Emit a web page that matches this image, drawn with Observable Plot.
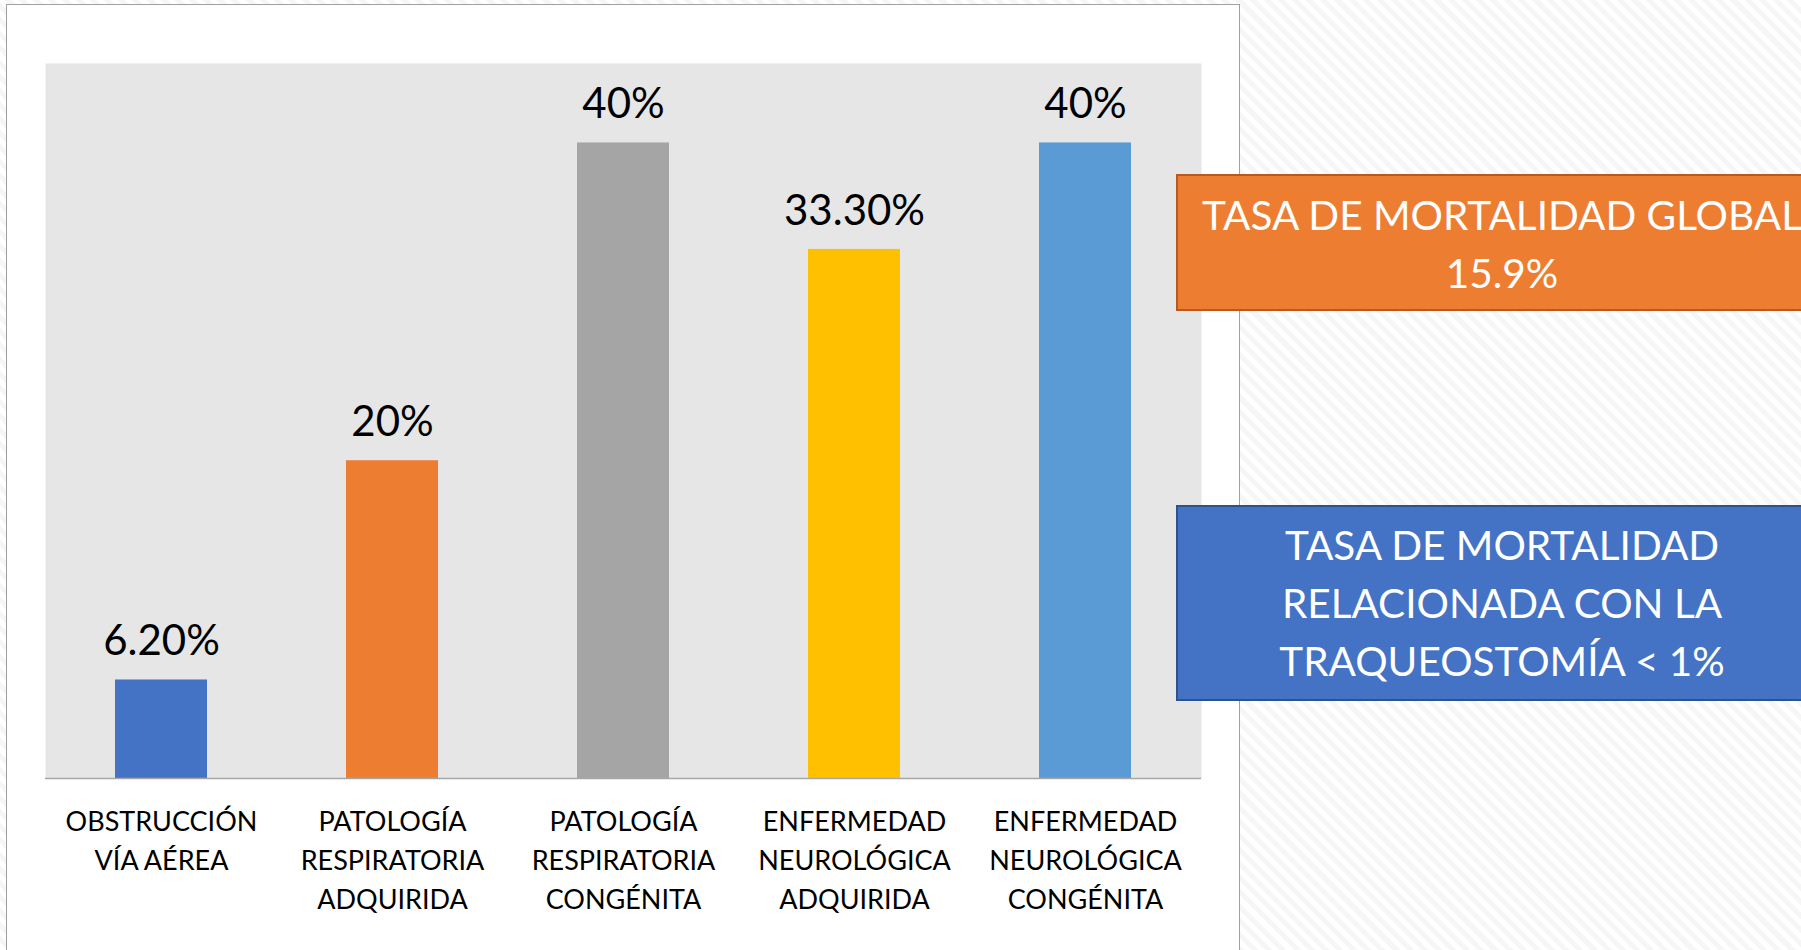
<!DOCTYPE html>
<html>
<head>
<meta charset="utf-8">
<script src="https://cdn.jsdelivr.net/npm/d3@7"></script>
<script src="https://cdn.jsdelivr.net/npm/@observablehq/plot@0.6"></script>
<style>
  html, body { margin: 0; padding: 0; width: 1801px; height: 950px; overflow: hidden; }
  body {
    position: relative;
    font-family: Lato, "Open Sans", sans-serif;
    background: repeating-linear-gradient(45deg, #ffffff 0px, #ffffff 5px, #f6f6f6 5px, #f6f6f6 10px);
  }
  #panel {
    position: absolute; left: 6px; top: 4px; width: 1232px; height: 1000px;
    background: #ffffff; border: 1.5px solid #a0a0a0;
  }
  #chart { position: absolute; left: 0; top: 0; }
  .box {
    position: absolute; box-sizing: border-box; color: #ffffff;
    font-family: Lato, sans-serif; font-size: 40.5px; text-align: center; white-space: nowrap;
  }
  .box div { position: absolute; left: 0; width: 648px; text-align: center; }
  #box1 { left: 1176px; top: 174px; width: 650px; height: 137px; background: #ED7D31; border: 2.5px solid #B85A1F; }
  #box2 { left: 1176px; top: 505px; width: 650px; height: 196px; background: #4472C4; border: 2.5px solid #2F528F; }
</style>
</head>
<body>
<div id="panel"></div>
<div id="chart"></div>
<div class="box" id="box1"></div>
<div class="box" id="box2"></div>
<script>
const categories = [
  "OBSTRUCCIÓN\nVÍA AÉREA",
  "PATOLOGÍA\nRESPIRATORIA\nADQUIRIDA",
  "PATOLOGÍA\nRESPIRATORIA\nCONGÉNITA",
  "ENFERMEDAD\nNEUROLÓGICA\nADQUIRIDA",
  "ENFERMEDAD\nNEUROLÓGICA\nCONGÉNITA"
];
const values = [6.2, 20, 40, 33.3, 40];
const valueLabels = ["6.20%", "20%", "40%", "33.30%", "40%"];
const barColors = ["#4472C4", "#ED7D31", "#A5A5A5", "#FFC000", "#5B9BD5"];
const box1Lines = ["TASA DE MORTALIDAD GLOBAL", "15.9%"];
const box2Lines = ["TASA DE MORTALIDAD", "RELACIONADA CON LA", "TRAQUEOSTOMÍA < 1%"];

const data = categories.map((c, i) => ({cat: c, value: values[i], label: valueLabels[i], color: barColors[i]}));

const chart = Plot.plot({
  width: 1240,
  height: 950,
  marginLeft: 45,
  marginRight: 39,
  marginTop: 63,
  marginBottom: 172,
  style: {background: "transparent", fontFamily: "Lato, sans-serif"},
  x: {domain: categories, paddingInner: 0.6, paddingOuter: 0.3, axis: null},
  y: {domain: [0, 45], axis: null},
  marks: [
    Plot.frame({fill: "#E6E6E6", stroke: null}),
    Plot.barY(data, {x: "cat", y: "value", fill: "color"}),
    Plot.ruleY([0], {stroke: "#A6A6A6", strokeWidth: 1.5}),
    Plot.text(data, {x: "cat", y: "value", text: "label", dy: -38, lineAnchor: "middle",
      fontSize: 42, fill: "#000000"}),
    Plot.text(data, {x: "cat", text: "cat", frameAnchor: "bottom", lineAnchor: "top", dy: 25,
      fontSize: 27, lineHeight: 1.44, fill: "#000000"})
  ]
});
document.getElementById("chart").appendChild(chart);

function fillBox(id, lines, firstCenter, spacing) {
  const el = document.getElementById(id);
  lines.forEach((t, i) => {
    const d = document.createElement("div");
    d.textContent = t;
    d.style.top = (firstCenter + i * spacing - 24) + "px";
    d.style.lineHeight = "48px";
    el.appendChild(d);
  });
}
fillBox("box1", box1Lines, 39, 57.5);
fillBox("box2", box2Lines, 38, 58);
</script>
</body>
</html>
